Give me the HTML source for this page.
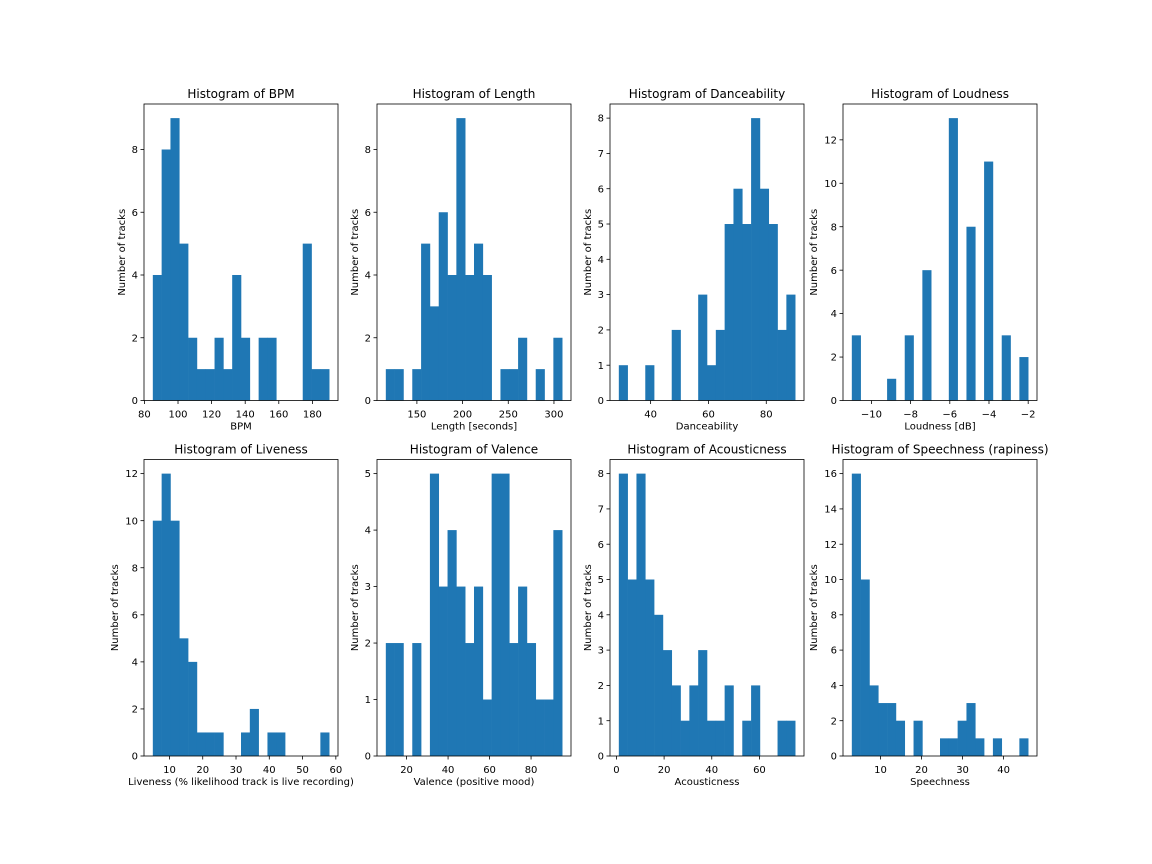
<!DOCTYPE html>
<html><head><meta charset="utf-8"><style>
html,body{margin:0;padding:0;background:#fff;}
svg{display:block;font-family:"DejaVu Sans","Liberation Sans",sans-serif;}
</style></head><body>
<svg id="fig" width="1152" height="864" viewBox="0 0 1152 864" xmlns="http://www.w3.org/2000/svg">
<rect width="1152" height="864" fill="#fff"/>
</svg>
<script>
const bpmCounts=[4,8,9,5,2,1,1,2,1,4,2,0,2,2,0,0,0,5,1,1];
const bpmRange=[85,190];
const lengthCounts=[1,1,0,1,5,3,6,4,9,4,5,4,0,1,1,2,0,1,0,2];
const lengthRange=[116,309];
const danceCounts=[1,0,0,1,0,0,2,0,0,3,1,2,5,6,5,8,6,5,2,3];
const danceRange=[29,90];
const loudCounts=[3,0,0,0,1,0,3,0,6,0,0,13,0,8,0,11,0,3,0,2];
const loudRange=[-11,-2];
const liveCounts=[10,12,10,5,4,1,1,1,0,0,1,2,0,1,1,0,0,0,0,1];
const liveRange=[5,58];
const valenceCounts=[2,2,0,2,0,5,3,4,3,2,3,1,5,5,2,3,2,1,1,4];
const valenceRange=[10,95];
const acousticCounts=[8,5,8,5,4,3,2,1,2,3,1,1,2,0,1,2,0,0,1,1];
const acousticRange=[1,75];
const speechCounts=[16,10,4,3,3,2,0,2,0,0,1,1,2,3,1,0,1,0,0,1];
const speechRange=[3,46];
const bpmXTicks=[80,100,120,140,160,180];
const lengthXTicks=[150,200,250,300];
const danceXTicks=[40,60,80];
const loudXTicks=[-10,-8,-6,-4,-2];
const liveXTicks=[10,20,30,40,50,60];
const valenceXTicks=[20,40,60,80];
const acousticXTicks=[0,20,40,60];
const speechXTicks=[10,20,30,40];
const bpmYTicks=[0,2,4,6,8];
const lengthYTicks=[0,2,4,6,8];
const danceYTicks=[0,1,2,3,4,5,6,7,8];
const loudYTicks=[0,2,4,6,8,10,12];
const liveYTicks=[0,2,4,6,8,10,12];
const valenceYTicks=[0,1,2,3,4,5];
const acousticYTicks=[0,1,2,3,4,5,6,7,8];
const speechYTicks=[0,2,4,6,8,10,12,14,16];

const NS="http://www.w3.org/2000/svg";
const fig=document.getElementById('fig');
function mk(tag,attrs,parent){const e=document.createElementNS(NS,tag);for(const k in attrs)e.setAttribute(k,attrs[k]);(parent||fig).appendChild(e);return e;}
function fmt(v){return v<0?'\u2212'+Math.abs(v):String(v);}

function drawHist(cfg){
  const g=mk('g',{});
  
  
  const x0=cfg.x,x1=cfg.x+194,y0=cfg.y,y1=cfg.y+296.5;
  const w=x1-x0, pad=w*0.05/1.1;
  const [mn,mx]=cfg.range;
  const sx=v=>x0+pad+(v-mn)/(mx-mn)*(w-2*pad);
  const ymax=Math.max(...cfg.counts)*1.05;
  const sy=v=>y1-v/ymax*(y1-y0);
  const n=cfg.counts.length, bw=(mx-mn)/n;
  cfg.counts.forEach((c,i)=>{
    if(c<=0)return;
    const a=sx(mn+i*bw), b=sx(mn+(i+1)*bw);
    const r=mk('rect',{x:a,y:sy(c),width:b-a+0.3,height:y1-sy(c),fill:'#1f77b4'},g);
    
    
  });
  const fr=mk('rect',{x:x0,y:y0,width:w,height:y1-y0,fill:'none',stroke:'#000','stroke-width':0.8},g);
  
  
  cfg.xticks.forEach(t=>{
    const X=sx(t);
    mk('line',{x1:X,x2:X,y1:y1,y2:y1+3.5,stroke:'#000','stroke-width':0.8},g);
    const tx=mk('text',{x:X,y:y1+17,'font-size':10,'text-anchor':'middle',fill:'#000'},g);
    tx.textContent=fmt(t);
    
    
  });
  cfg.yticks.forEach(t=>{
    const Y=sy(t);
    mk('line',{x1:x0-3.5,x2:x0,y1:Y,y2:Y,stroke:'#000','stroke-width':0.8},g);
    const tx=mk('text',{x:x0-6,y:Y+3.6,'font-size':10,'text-anchor':'end',fill:'#000'},g);
    tx.textContent=fmt(t);
    
    
  });
  const tt=mk('text',{x:(x0+x1)/2,y:y0-6,'font-size':12,'text-anchor':'middle',fill:'#000'},g);
  tt.textContent=cfg.title;
  
  
  const xl=mk('text',{x:(x0+x1)/2,y:y1+29,'font-size':10,'text-anchor':'middle',fill:'#000'},g);
  xl.textContent=cfg.xlabel;
  
  
  const twoDigit=Math.max(...cfg.yticks)>=10;
  const lx=x0-(twoDigit?26:19);
  const yl=mk('text',{x:lx,y:(y0+y1)/2,'font-size':10,'text-anchor':'middle',fill:'#000',transform:'rotate(-90 '+lx+' '+((y0+y1)/2)+')'},g);
  yl.textContent='Number of tracks';
  
  
}
drawHist({name:'bpm',x:144,y:104,counts:bpmCounts,range:bpmRange,xticks:bpmXTicks,yticks:bpmYTicks,title:'Histogram of BPM',xlabel:'BPM'});
drawHist({name:'length',x:377,y:104,counts:lengthCounts,range:lengthRange,xticks:lengthXTicks,yticks:lengthYTicks,title:'Histogram of Length',xlabel:'Length [seconds]'});
drawHist({name:'danceability',x:610,y:104,counts:danceCounts,range:danceRange,xticks:danceXTicks,yticks:danceYTicks,title:'Histogram of Danceability',xlabel:'Danceability'});
drawHist({name:'loudness',x:843,y:104,counts:loudCounts,range:loudRange,xticks:loudXTicks,yticks:loudYTicks,title:'Histogram of Loudness',xlabel:'Loudness [dB]'});
drawHist({name:'liveness',x:144,y:459.5,counts:liveCounts,range:liveRange,xticks:liveXTicks,yticks:liveYTicks,title:'Histogram of Liveness',xlabel:'Liveness (% likelihood track is live recording)'});
drawHist({name:'valence',x:377,y:459.5,counts:valenceCounts,range:valenceRange,xticks:valenceXTicks,yticks:valenceYTicks,title:'Histogram of Valence',xlabel:'Valence (positive mood)'});
drawHist({name:'acousticness',x:610,y:459.5,counts:acousticCounts,range:acousticRange,xticks:acousticXTicks,yticks:acousticYTicks,title:'Histogram of Acousticness',xlabel:'Acousticness'});
drawHist({name:'speechness',x:843,y:459.5,counts:speechCounts,range:speechRange,xticks:speechXTicks,yticks:speechYTicks,title:'Histogram of Speechness (rapiness)',xlabel:'Speechness'});
</script>
</body></html>
